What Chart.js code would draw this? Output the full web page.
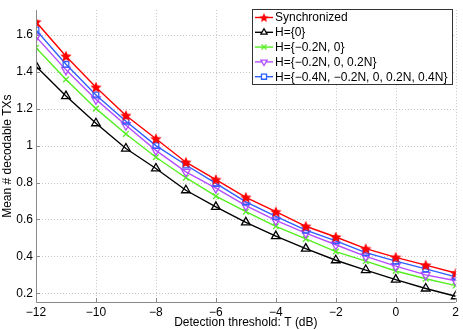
<!DOCTYPE html>
<html lang="en">
<head>
    <meta charset="UTF-8">
    <title>Decodable TXs</title>
    <script src="https://cdn.jsdelivr.net/npm/chart.js"></script>
    <style>
        body { margin: 0; background: #fff; }
        canvas { display: block; }
    </style>
</head>
<body>
    <canvas id="txChart" width="463" height="330"></canvas>

    <script>
        // === Data ===
        const thresholds = [-12, -11, -10, -9, -8, -7, -6, -5, -4, -3, -2, -1, 0, 1, 2];
        const xTicks = [-12, -10, -8, -6, -4, -2, 0, 2];
        const yTicks = [0.2, 0.4, 0.6, 0.8, 1, 1.2, 1.4, 1.6];

        const labels = [
            'Synchronized',
            'H={0}',
            'H={\u22120.2N, 0}',
            'H={\u22120.2N, 0, 0.2N}',
            'H={\u22120.4N, \u22120.2N, 0, 0.2N, 0.4N}'
        ];

        const synced = [1.67, 1.484, 1.316, 1.163, 1.037, 0.91, 0.816, 0.72, 0.642, 0.563, 0.505, 0.442, 0.395, 0.353, 0.31];
        const h1 = [1.43, 1.268, 1.121, 0.984, 0.876, 0.758, 0.668, 0.584, 0.51, 0.442, 0.379, 0.326, 0.274, 0.226, 0.184];
        const h2 = [1.53, 1.358, 1.2, 1.063, 0.937, 0.826, 0.726, 0.642, 0.563, 0.495, 0.426, 0.374, 0.321, 0.279, 0.242];
        const h3 = [1.59, 1.41, 1.25, 1.11, 0.974, 0.858, 0.77, 0.675, 0.595, 0.526, 0.463, 0.4, 0.347, 0.3, 0.268];
        const h5 = [1.626, 1.44, 1.274, 1.132, 1.0, 0.895, 0.795, 0.695, 0.616, 0.542, 0.484, 0.42, 0.374, 0.332, 0.289];

        const FONT = 'Liberation Sans, Arial, Helvetica, sans-serif';

        // filled star marker (Chart.js 'star' is only an asterisk)
        function makeStar(color, r) {
            const c = document.createElement('canvas');
            const size = r * 2 + 2;
            c.width = size; c.height = size;
            const g = c.getContext('2d');
            g.beginPath();
            for (let i = 0; i < 10; i++) {
                const rad = i % 2 === 0 ? r : r * 0.45;
                const a = -Math.PI / 2 + i * Math.PI / 5;
                const px = size / 2 + rad * Math.cos(a);
                const py = size / 2 + rad * Math.sin(a) + 0.5;
                if (i === 0) g.moveTo(px, py); else g.lineTo(px, py);
            }
            g.closePath();
            g.fillStyle = color;
            g.fill();
            return c;
        }
        const starImg = makeStar('#ff0000', 6);
        const starSmall = makeStar('#ff0000', 5);

        const toPoints = arr => arr.map((v, i) => ({ x: thresholds[i], y: v }));

        const datasets = [
            { label: labels[0], data: toPoints(synced), borderColor: '#ff0000', backgroundColor: '#ff0000', pointStyle: starImg, pointRadius: 6 },
            { label: labels[1], data: toPoints(h1), borderColor: '#000000', backgroundColor: 'rgba(255,255,255,0)', pointStyle: 'triangle', pointRadius: 5 },
            { label: labels[2], data: toPoints(h2), borderColor: '#55ee22', backgroundColor: '#55ee22', pointStyle: 'crossRot', pointRadius: 4 },
            { label: labels[3], data: toPoints(h3), borderColor: '#b44dff', backgroundColor: 'rgba(255,255,255,0)', pointStyle: 'triangle', rotation: 180, pointRadius: 5 },
            { label: labels[4], data: toPoints(h5), borderColor: '#2f5fff', backgroundColor: 'rgba(255,255,255,0)', pointStyle: 'rect', pointRadius: 4 }
        ].map(d => Object.assign({
            borderWidth: 1.4,
            pointBorderWidth: 1.3,
            tension: 0,
            fill: false
        }, d));

        // keep synchronized on top
        datasets.forEach((d, i) => { d.order = i === 0 ? 0 : 5 - i; });

        // === dotted matlab-style grid ===
        const dottedGrid = {
            id: 'dottedGrid',
            beforeDatasetsDraw(chart) {
                const ctx = chart.ctx;
                const a = chart.chartArea;
                const xs = chart.scales.x, ys = chart.scales.y;
                ctx.save();
                ctx.strokeStyle = '#c4c4c4';
                ctx.lineWidth = 1;
                ctx.setLineDash([1, 2]);
                ctx.beginPath();
                xTicks.forEach(v => {
                    const px = Math.round(xs.getPixelForValue(v)) + 0.5;
                    ctx.moveTo(px, a.top);
                    ctx.lineTo(px, a.bottom);
                });
                yTicks.forEach(v => {
                    const py = Math.round(ys.getPixelForValue(v)) + 0.5;
                    ctx.moveTo(a.left, py);
                    ctx.lineTo(a.right, py);
                });
                ctx.stroke();
                ctx.setLineDash([]);
                // small inward tick marks
                ctx.strokeStyle = '#8a8a8a';
                ctx.beginPath();
                xTicks.forEach(v => {
                    const px = Math.round(xs.getPixelForValue(v)) + 0.5;
                    ctx.moveTo(px, a.bottom);
                    ctx.lineTo(px, a.bottom - 4);
                });
                yTicks.forEach(v => {
                    const py = Math.round(ys.getPixelForValue(v)) + 0.5;
                    ctx.moveTo(a.left, py);
                    ctx.lineTo(a.left + 4, py);
                });
                ctx.stroke();
                ctx.restore();
            },
            afterDatasetsDraw(chart) {
                // grey axis lines, left and bottom only
                const ctx = chart.ctx;
                const a = chart.chartArea;
                ctx.save();
                ctx.strokeStyle = '#8a8a8a';
                ctx.lineWidth = 1;
                ctx.beginPath();
                ctx.moveTo(Math.round(a.left) + 0.5, a.top);
                ctx.lineTo(Math.round(a.left) + 0.5, Math.round(a.bottom) + 0.5);
                ctx.lineTo(a.right, Math.round(a.bottom) + 0.5);
                ctx.stroke();
                ctx.restore();
            }
        };

        // === Boxed legend inside the axes, like matlab ===
        const boxLegend = {
            id: 'boxLegend',
            afterDraw(chart) {
                const ctx = chart.ctx;
                const right = 452;
                const left = 252;
                const top = 9;
                const rowH = 14.8;
                ctx.save();
                ctx.fillStyle = '#ffffff';
                ctx.fillRect(left, top, right - left, rowH * 5 + 1);
                ctx.strokeStyle = '#333333';
                ctx.lineWidth = 1;
                ctx.strokeRect(left + 0.5, top + 0.5, right - left, rowH * 5 + 1);
                ctx.font = '12px ' + FONT;
                ctx.textBaseline = 'middle';
                ctx.textAlign = 'left';
                chart.data.datasets.forEach((ds, i) => {
                    const y = top + 8.5 + i * rowH;
                    ctx.strokeStyle = ds.borderColor;
                    ctx.lineWidth = 1.4;
                    ctx.beginPath();
                    ctx.moveTo(left + 3, y);
                    ctx.lineTo(left + 21, y);
                    ctx.stroke();
                    ctx.fillStyle = ds.pointStyle === 'crossRot' ? ds.borderColor : '#ffffff';
                    ctx.lineWidth = 1.3;
                    Chart.helpers.drawPoint(ctx, {
                        pointStyle: ds.pointStyle === starImg ? starSmall : ds.pointStyle,
                        rotation: ds.rotation || 0,
                        radius: 3.6,
                        borderWidth: 1.3
                    }, left + 12, y);
                    ctx.fillStyle = '#000000';
                    ctx.fillText(ds.label, left + 23, y + 0.5);
                });
                ctx.restore();
            }
        };

        const fmt = v => String(v).replace('-', '\u2212');

        new Chart(document.getElementById('txChart').getContext('2d'), {
            type: 'line',
            data: { datasets: datasets },
            options: {
                responsive: false,
                animation: false,
                layout: { padding: { top: 0, right: 7, left: 0, bottom: 0 } },
                plugins: {
                    legend: { display: false },
                    tooltip: { enabled: false }
                },
                scales: {
                    x: {
                        type: 'linear',
                        min: -12,
                        max: 2,
                        afterBuildTicks: s => { s.ticks = xTicks.map(v => ({ value: v })); },
                        afterFit: s => { s.height = 28; },
                        ticks: {
                            color: '#000',
                            font: { family: FONT, size: 12 },
                            padding: 3,
                            maxRotation: 0,
                            callback: v => fmt(v)
                        },
                        grid: { display: false, drawTicks: false },
                        border: { display: false },
                        title: {
                            display: true,
                            text: 'Detection threshold: T (dB)',
                            color: '#000',
                            font: { family: FONT, size: 12 },
                            padding: { top: 0, bottom: 0 }
                        }
                    },
                    y: {
                        min: 0.153,
                        max: 1.733,
                        afterBuildTicks: s => { s.ticks = yTicks.map(v => ({ value: v })); },
                        afterFit: s => { s.width = 36; },
                        ticks: {
                            color: '#000',
                            font: { family: FONT, size: 12 },
                            padding: 3,
                            callback: v => fmt(v)
                        },
                        grid: { display: false, drawTicks: false },
                        border: { display: false },
                        title: {
                            display: true,
                            text: 'Mean # decodable TXs',
                            color: '#000',
                            font: { family: FONT, size: 12 },
                            padding: { top: 0, bottom: 2 }
                        }
                    }
                }
            },
            plugins: [dottedGrid, boxLegend]
        });
    </script>
</body>
</html>
